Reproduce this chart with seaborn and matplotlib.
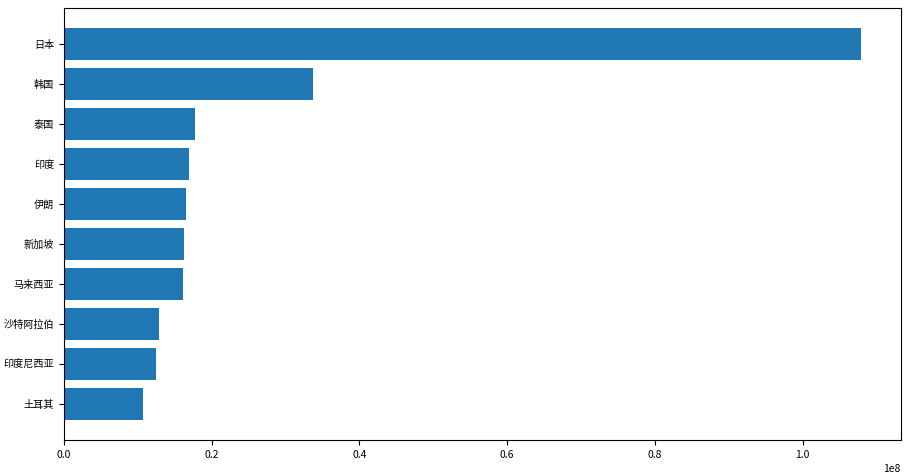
import pandas as pd
import numpy as np
import matplotlib
matplotlib.use('Agg')
import matplotlib.pyplot as plt
import seaborn as sns

# country names and values (scale 1e8)
countries = ['日本', '韩国', '泰国', '印度', '伊朗', '新加坡', '马来西亚', '沙特阿拉伯', '印度尼西亚', '土耳其']
values = [1.079e8, 3.37e7, 1.77e7, 1.69e7, 1.65e7, 1.63e7, 1.61e7, 1.28e7, 1.24e7, 1.064e7]

df = pd.DataFrame({'country': countries, 'value': values})

plt.rcParams['font.family'] = ['Noto Sans CJK SC', 'DejaVu Sans']
plt.rcParams['axes.unicode_minus'] = False

fig, ax = plt.subplots(figsize=(9.08, 4.75), dpi=100)
sns.barplot(data=df, x='value', y='country', orient='h', color='#1f77b4',
            saturation=1, width=0.8, ax=ax)
ax.set_xlabel('')
ax.set_ylabel('')
# matplotlib-style 5% margin around the bars
n = len(countries)
ax.set_ylim(n - 1 + 0.4 + 0.49, -0.4 - 0.49)
ax.tick_params(axis='y', labelsize=7.3)
ax.tick_params(axis='x', labelsize=7.5)
ax.xaxis.get_offset_text().set_fontsize(7.5)
for s in ax.spines.values():
    s.set_visible(True)

fig.subplots_adjust(left=0.0705, right=0.992, top=0.983, bottom=0.074)
fig.savefig('out.png', dpi=100)
